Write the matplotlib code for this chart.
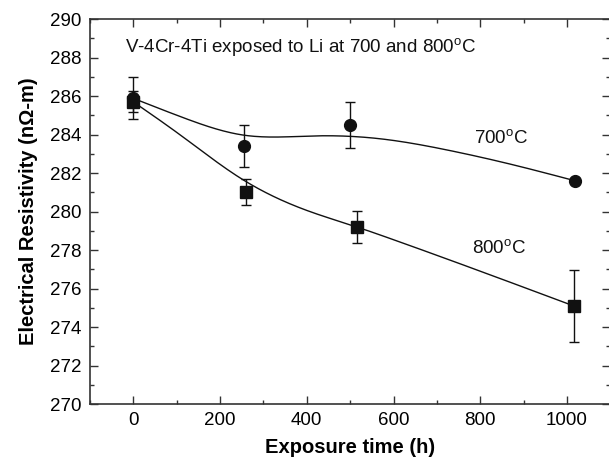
import numpy as np
import matplotlib
matplotlib.use("Agg")
import matplotlib.pyplot as plt
from matplotlib.ticker import MultipleLocator

plt.rcParams['font.family'] = ['Liberation Sans', 'DejaVu Sans']
plt.rcParams['mathtext.fontset'] = 'custom'
plt.rcParams['mathtext.rm'] = 'Liberation Sans'
plt.rcParams['mathtext.it'] = 'Liberation Sans:italic'
plt.rcParams['mathtext.bf'] = 'Liberation Sans:bold'

# ---- data ----
t700 = [0, 255, 500, 1018]
r700 = [285.9, 283.4, 284.5, 281.6]
e700 = [1.1, 1.08, 1.2, 0.0]

t800 = [0, 261, 515, 1015]
r800 = [285.7, 281.0, 279.2, 275.1]
e800 = [0.55, 0.67, 0.85, 1.87]

# smooth guide curves
c700_t = [0, 110, 254, 420, 569, 723, 877, 1018]
c700_r = [285.88, 284.92, 283.97, 283.93, 283.78, 283.2, 282.42, 281.6]
c800_t = [0, 107, 246, 407, 515, 592, 800, 1015]
c800_r = [285.7, 284.0, 281.75, 280.0, 279.2, 278.6, 276.9, 275.1]

xticks = [0, 200, 400, 600, 800, 1000]
yticks = [270, 272, 274, 276, 278, 280, 282, 284, 286, 288, 290]


def natural_spline(xk, yk, xs):
    xk = np.asarray(xk, float)
    yk = np.asarray(yk, float)
    n = len(xk)
    h = np.diff(xk)
    A = np.zeros((n, n))
    b = np.zeros(n)
    A[0, 0] = 1
    A[-1, -1] = 1
    for i in range(1, n - 1):
        A[i, i - 1] = h[i - 1]
        A[i, i] = 2 * (h[i - 1] + h[i])
        A[i, i + 1] = h[i]
        b[i] = 6 * ((yk[i + 1] - yk[i]) / h[i] - (yk[i] - yk[i - 1]) / h[i - 1])
    M = np.linalg.solve(A, b)
    ys = np.empty_like(xs)
    for j, x in enumerate(xs):
        i = min(max(np.searchsorted(xk, x) - 1, 0), n - 2)
        a = (xk[i + 1] - x) / h[i]
        c = (x - xk[i]) / h[i]
        ys[j] = (a * yk[i] + c * yk[i + 1]
                 + ((a ** 3 - a) * M[i] + (c ** 3 - c) * M[i + 1]) * h[i] ** 2 / 6)
    return ys


fig = plt.figure(figsize=(6.09, 4.62), dpi=100)
ax = fig.add_axes([0.1476, 0.1255, 0.8547, 0.8333])

col = '#111111'
xs = np.linspace(c700_t[0], c700_t[-1], 300)
ax.plot(xs, natural_spline(c700_t, c700_r, xs), color=col, lw=1.0)
xs = np.linspace(c800_t[0], c800_t[-1], 300)
ax.plot(xs, natural_spline(c800_t, c800_r, xs), color=col, lw=1.0)

ax.errorbar(t800, r800, yerr=e800, fmt='s', ms=8, color=col, ecolor=col,
            elinewidth=1.0, capsize=3.5, capthick=1.0, zorder=3)
ax.errorbar(t700, r700, yerr=e700, fmt='o', ms=8.5, color=col, ecolor=col,
            elinewidth=1.0, capsize=3.5, capthick=1.0, zorder=4)

ax.set_xlim(-100, 1100)
ax.set_ylim(270, 290)
ax.set_xticks(xticks)
ax.set_yticks(yticks)
ax.xaxis.set_minor_locator(MultipleLocator(100))
ax.yaxis.set_minor_locator(MultipleLocator(1))
ax.tick_params(which='both', direction='in', top=True, right=True,
               color='#333333', width=1.0)
ax.tick_params(which='major', length=6, labelsize=13.5, pad=6)
ax.tick_params(which='minor', length=3)
for s in ax.spines.values():
    s.set_linewidth(1.2)
    s.set_color('#333333')

ax.set_xlabel('Exposure time (h)', fontsize=14.5, fontweight='bold', labelpad=6)
ax.set_ylabel('Electrical Resistivity (n\u03a9-m)', fontsize=14.5,
              fontweight='bold', labelpad=9)

ax.text(-20, 288.55, 'V-4Cr-4Ti exposed to Li at 700 and 800$^{\\mathrm{o}}$C',
        fontsize=13.5, ha='left', va='center', color=col)
ax.text(848, 283.8, '700$^{\\mathrm{o}}$C', fontsize=13.5, ha='center',
        va='center', color=col)
ax.text(843, 278.1, '800$^{\\mathrm{o}}$C', fontsize=13.5, ha='center',
        va='center', color=col)

fig.savefig('out.png', dpi=100)
